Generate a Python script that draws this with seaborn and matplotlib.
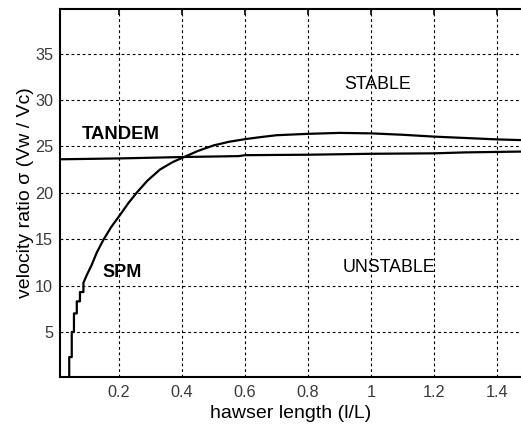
import matplotlib
matplotlib.use("Agg")
import matplotlib.pyplot as plt
import seaborn as sns
import pandas as pd

# SPM stability boundary
spm_x = [0.042, 0.042, 0.050, 0.050, 0.057, 0.057, 0.066, 0.066, 0.076, 0.076,
         0.087, 0.087, 0.100, 0.113, 0.130, 0.150, 0.175, 0.203, 0.230, 0.256, 0.290,
         0.330, 0.370, 0.410, 0.450, 0.500, 0.550, 0.605, 0.650, 0.700, 0.800,
         0.900, 1.000, 1.100, 1.200, 1.300, 1.400, 1.500]
spm_y = [0.0, 2.3, 2.3, 5.0, 5.0, 7.0, 7.0, 8.3, 8.3, 9.3,
         9.3, 10.3, 11.3, 12.2, 13.6, 14.9, 16.3, 17.6, 18.9, 20.0, 21.3,
         22.5, 23.3, 23.9, 24.5, 25.1, 25.5, 25.8, 26.0, 26.2, 26.35,
         26.45, 26.4, 26.25, 26.05, 25.9, 25.75, 25.65]

# TANDEM stability boundary
tandem_x = [0.0, 0.20, 0.40, 0.58, 0.60, 0.80, 1.00, 1.20, 1.30, 1.50]
tandem_y = [23.6, 23.7, 23.85, 23.95, 24.05, 24.1, 24.2, 24.25, 24.35, 24.45]

x_ticks = [0.2, 0.4, 0.6, 0.8, 1.0, 1.2, 1.4]
x_tick_labels = ["0.2", "0.4", "0.6", "0.8", "1", "1.2", "1.4"]
y_ticks = [5, 10, 15, 20, 25, 30, 35]
y_tick_labels = ["5", "10", "15", "20", "25", "30", "35"]

sns.set_style("white")
plt.rcParams["font.family"] = ["Liberation Sans", "DejaVu Sans"]
plt.rcParams["text.color"] = "black"
plt.rcParams["axes.labelcolor"] = "black"

fig = plt.figure(figsize=(5.21, 4.30), dpi=100)
ax = fig.add_axes([60 / 521, 1 - 377 / 430, 461 / 521, 368 / 430])

spm_df = pd.DataFrame({"x": spm_x, "y": spm_y})
tan_df = pd.DataFrame({"x": tandem_x, "y": tandem_y})
sns.lineplot(data=spm_df, x="x", y="y", estimator=None, sort=False,
             color="black", linewidth=1.6, ax=ax)
sns.lineplot(data=tan_df, x="x", y="y", estimator=None, sort=False,
             color="black", linewidth=1.6, ax=ax)

ax.set_xlim(0.0127, 1.476)
ax.set_ylim(0.15, 39.8)
ax.set_xticks(x_ticks)
ax.set_xticklabels(x_tick_labels)
ax.set_yticks(y_ticks)
ax.set_yticklabels(y_tick_labels)

ax.grid(True, color="black", linestyle=(0, (2.5, 2.5)), linewidth=0.8)
ax.set_axisbelow(True)

for s in ["left", "bottom", "top"]:
    ax.spines[s].set_visible(True)
    ax.spines[s].set_color("black")
    ax.spines[s].set_linewidth(1.5)
ax.spines["right"].set_visible(False)

ax.tick_params(axis="both", direction="in", length=4, width=1.2,
               labelsize=11.7, labelcolor="#3a3a3a", color="black")
ax.tick_params(axis="x", pad=6, top=True)
ax.tick_params(axis="y", pad=5)

ax.set_xlabel("hawser length (l/L)", fontsize=14, color="black", labelpad=3)
ax.set_ylabel("velocity ratio σ (Vw / Vc)", fontsize=14, color="black")
ax.yaxis.set_label_coords(-0.057, 0.5)

ax.text(0.207, 26.3, "TANDEM", fontsize=13.3, fontweight="bold",
        color="black", ha="center", va="center")
ax.text(0.210, 11.45, "SPM", fontsize=13.0, fontweight="bold",
        color="black", ha="center", va="center")
ax.text(1.021, 31.7, "STABLE", fontsize=12.8, color="black",
        ha="center", va="center")
ax.text(1.056, 11.95, "UNSTABLE", fontsize=12.8, color="black",
        ha="center", va="center")

fig.savefig("out.png", dpi=100)
